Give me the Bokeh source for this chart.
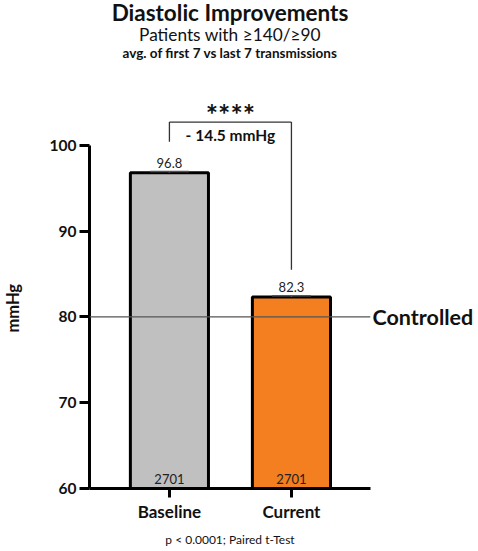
from bokeh.plotting import figure
from bokeh.models import Range1d, Span, FixedTicker, ColumnDataSource, LinearAxis, Title
from bokeh.core.properties import value
from bokeh.embed import file_html
from bokeh.resources import INLINE

# ---- data ----
categories = ["Baseline", "Current"]
means = [96.8, 82.3]
errors = [0.15, 0.15]
counts = [2701, 2701]
colors = ["#c0c0c0", "#f47f20"]
y_ticks = [60, 70, 80, 90, 100]
controlled_level = 80
controlled_text = "Controlled"
significance = "****"
p_text = "p < 0.0001; Paired t-Test"
title_text = "Diastolic Improvements"
subtitle_text = "Patients with \u2265140/\u226590"
subsub_text = "avg. of first 7 vs last 7 transmissions"
y_label = "mmHg"

FONT = "Lato"
INK = "#111111"
xs = [i + 1 for i in range(len(categories))]
ymin, ymax = y_ticks[0], y_ticks[-1]

# layout: frame spans canvas top down to the x axis (y=489px); 8.6 px per mmHg
FRAME_H = 489
PX_PER_UNIT = 8.6
X0, X1 = 0.345, 2.648
Y_TOP = ymin + FRAME_H / PX_PER_UNIT


def y_at(px):
    """data y for a pixel row measured from the top of the canvas"""
    return ymin + (FRAME_H - px) / PX_PER_UNIT


p = figure(width=478, height=551, output_backend="svg", toolbar_location=None,
           x_range=Range1d(X0, X1), y_range=Range1d(ymin, Y_TOP),
           min_border_left=89, min_border_right=108, min_border_top=0,
           min_border_bottom=62, title=None)
p.outline_line_color = None
p.grid.visible = False
p.background_fill_color = "white"
p.border_fill_color = "white"

src = ColumnDataSource(dict(
    x=xs, top=means, color=colors, err_hi=[m + e for m, e in zip(means, errors)],
    lbl=[f"{m:.1f}" for m in means], n=[str(c) for c in counts],
    cap_l=[x - 0.16 for x in xs], cap_r=[x + 0.16 for x in xs],
    lbl_y=[m + e + 0.45 for m, e in zip(means, errors)],
))

p.vbar(x="x", top="top", bottom=ymin, width=0.64, fill_color="color",
       line_color="black", line_width=3, source=src)
# error bars
p.segment(x0="x", y0="top", x1="x", y1="err_hi", line_color="#555555", line_width=1.5, source=src)
p.segment(x0="cap_l", y0="err_hi", x1="cap_r", y1="err_hi", line_color="#555555", line_width=1.5, source=src)

p.text(x="x", y="lbl_y", text="lbl", text_align="center", text_baseline="bottom",
       text_font=value(FONT), text_font_size="13px", text_color="#222222", source=src)
p.text(x="x", y=ymin + 0.55, text="n", text_align="center", text_baseline="bottom",
       text_font=value(FONT), text_font_size="13px", text_color="#222222", source=src)

# controlled line
p.add_layout(Span(location=controlled_level, dimension="width", line_color="#555555", line_width=1.2))

# significance bracket
top_y = max(means) + 5.9
p.segment(x0=[xs[0], xs[0], xs[1]], y0=[top_y, top_y, top_y],
          x1=[xs[1], xs[0], xs[1]], y1=[top_y, means[0] + 3.6, means[1] + 3.2],
          line_color="#333333", line_width=1.3)
diff = means[1] - means[0]
p.text(x=[(xs[0] + xs[1]) / 2], y=[top_y - 1.5], text=[f"- {abs(diff):.1f} mmHg"],
       text_align="center", text_baseline="middle", text_font=value(FONT),
       text_font_style="bold", text_font_size="15.5px", text_color=INK)
p.text(x=[(xs[0] + xs[1]) / 2], y=[top_y + 0.95], text=[significance],
       text_align="center", text_baseline="middle", text_font=value(FONT),
       text_font_style="bold", text_font_size="29px", text_color=INK)

# titles (text inside the tall frame, centred over the plot)
xc = (X0 + X1) / 2
for txt, py, size, style in [(title_text, 12.5, "22.5px", "bold"),
                             (subtitle_text, 34, "17.3px", "normal"),
                             (subsub_text, 53, "13.5px", "bold")]:
    p.text(x=[xc], y=[y_at(py)], text=[txt], text_align="center", text_baseline="middle",
           text_font=value(FONT), text_font_style=style, text_font_size=size, text_color=INK)

# axes
ya = p.yaxis[0]
ya.ticker = FixedTicker(ticks=y_ticks)
ya.bounds = (ymin, ymax)
ya.axis_line_width = 3
ya.major_tick_line_width = 3
ya.major_tick_out = 10
ya.major_tick_in = 0
ya.minor_tick_line_color = None
ya.major_label_text_font = FONT
ya.major_label_text_font_style = "bold"
ya.major_label_text_font_size = "15.5px"
ya.major_label_standoff = 3
ya.major_label_text_color = INK

# y-axis title as the single label of an extra, line-less axis
label_y = 81
la = LinearAxis(ticker=FixedTicker(ticks=[label_y]), major_label_overrides={label_y: y_label})
la.axis_line_color = None
la.major_tick_line_color = None
la.minor_tick_line_color = None
la.major_tick_out = 0
la.major_tick_in = 0
la.major_label_orientation = "vertical"
la.major_label_standoff = 23
la.major_label_text_font = FONT
la.major_label_text_font_style = "bold"
la.major_label_text_font_size = "16.5px"
la.major_label_text_color = INK
p.add_layout(la, "left")

xa = p.xaxis[0]
xa.ticker = FixedTicker(ticks=xs)
xa.major_label_overrides = {x: c for x, c in zip(xs, categories)}
xa.axis_line_width = 3
xa.major_tick_line_width = 3
xa.major_tick_out = 9
xa.major_tick_in = 0
xa.minor_tick_line_color = None
xa.major_label_text_font = FONT
xa.major_label_text_font_style = "bold"
xa.major_label_text_font_size = "17px"
xa.major_label_standoff = 3
xa.major_label_text_color = INK

# "Controlled" label on the right via an axis
ra = LinearAxis(ticker=FixedTicker(ticks=[controlled_level]),
                major_label_overrides={controlled_level: controlled_text})
ra.axis_line_color = None
ra.major_tick_line_color = None
ra.minor_tick_line_color = None
ra.major_tick_out = 0
ra.major_tick_in = 0
ra.major_label_standoff = 2
ra.major_label_text_font = FONT
ra.major_label_text_font_style = "bold"
ra.major_label_text_font_size = "21.5px"
ra.major_label_text_color = INK
p.add_layout(ra, "right")

p.add_layout(Title(text=p_text, align="center", text_font=FONT, text_font_size="12px",
                   text_font_style="normal", text_color=INK, standoff=10), "below")

open("out.html", "w").write(file_html(p, INLINE))
